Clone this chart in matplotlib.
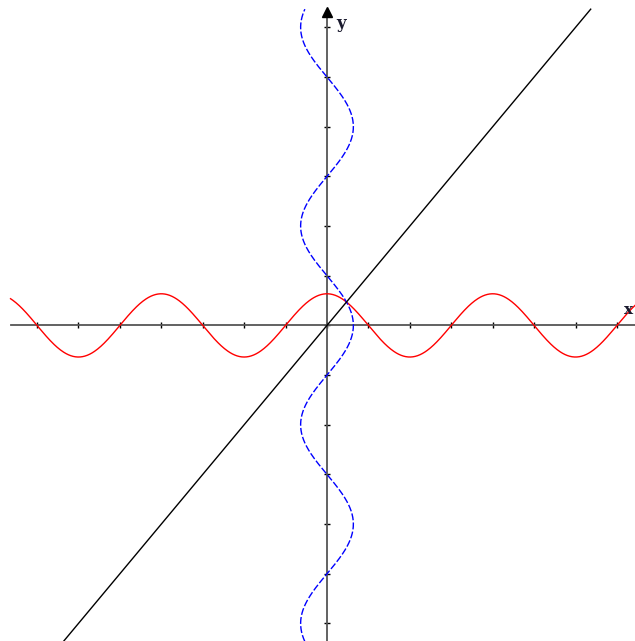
import numpy as np
import matplotlib
matplotlib.use("Agg")
import matplotlib.pyplot as plt

# curves: red y = cos(x), blue x = cos(y), black y = x
x_red = np.linspace(-12, 12, 800)
y_blue = np.linspace(-10, 10, 800)
x_line = [-10, 10]

tick_step = np.pi / 2
x_ticks = np.arange(-7, 8) * tick_step
y_ticks = np.arange(-6, 7) * tick_step

fig = plt.figure(figsize=(6.35, 6.41), dpi=100)
ax = fig.add_axes([0, 0, 1, 1])
ax.set_xlim(-12.40, 11.68)
ax.set_ylim(-9.98, 10.29)

# axes through the origin
for s in ['top', 'right']:
    ax.spines[s].set_visible(False)
ax.spines['left'].set_position('zero')
ax.spines['bottom'].set_position('zero')
ax.spines['left'].set_color('#555555')
ax.spines['bottom'].set_color('#555555')
ax.spines['left'].set_linewidth(1.3)
ax.spines['bottom'].set_linewidth(1.3)
ax.spines['bottom'].set_bounds(-12, 11.68)
ax.spines['left'].set_bounds(-9.98, 9.8)
ax.set_xticks(x_ticks)
ax.set_yticks(y_ticks)
ax.set_xticklabels([])
ax.set_yticklabels([])
ax.tick_params(direction='inout', length=4.5, width=1, color='black')

ax.plot(x_red, np.cos(x_red), color='red', lw=1.0, zorder=3)
ax.plot(np.cos(y_blue), y_blue, color='blue', lw=1.0, dashes=(5, 1.6), zorder=3)
ax.plot(x_line, x_line, color='black', lw=1.0, zorder=3)

# arrow at the top of the y axis
ax.plot(0, 9.9, marker='^', color='black', markersize=6.5, clip_on=False, zorder=4)

ax.text(0.35, 9.55, 'y', fontsize=12, fontweight='bold', family='DejaVu Serif',
        color='#1a1a2e', ha='left', va='center')
ax.text(11.42, 0.5, 'x', fontsize=11, fontweight='bold', family='DejaVu Serif',
        color='#1a1a2e', ha='center', va='center')

fig.savefig('out.png', dpi=100)
